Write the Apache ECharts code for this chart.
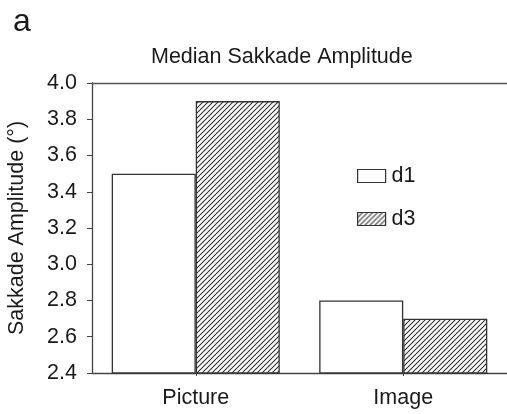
<!DOCTYPE html>
<html>
<head>
<meta charset="utf-8">
<script src="https://cdn.jsdelivr.net/npm/echarts@6/dist/echarts.min.js"></script>
<style>html,body{margin:0;padding:0;background:#fff;}#c{width:507px;height:414px;}</style>
</head>
<body>
<div id="c"></div>
<script>
const categories = ['Picture', 'Image'];
const seriesNames = ['d1', 'd3'];
const d1Values = [3.5, 2.8];
const d3Values = [3.9, 2.7];
const yTicks = [2.4, 2.6, 2.8, 3.0, 3.2, 3.4, 3.6, 3.8, 4.0];

function hatch() {
  const c = document.createElement('canvas');
  const s = 5;
  c.width = s; c.height = s;
  const g = c.getContext('2d');
  g.fillStyle = '#fff';
  g.fillRect(0, 0, s, s);
  g.strokeStyle = '#333';
  g.lineWidth = 1.1;
  g.beginPath();
  g.moveTo(-1, s + 1); g.lineTo(s + 1, -1);
  g.moveTo(-1, 1); g.lineTo(1, -1);
  g.moveTo(s - 1, s + 1); g.lineTo(s + 1, s - 1);
  g.stroke();
  return c;
}

const chart = echarts.init(document.getElementById('c'), null, {renderer: 'canvas'});
const font = 'Arial, "Liberation Sans", sans-serif';
const txt = '#1a1a1a';
const fs = 21.5;
chart.setOption({
  backgroundColor: '#fff',
  animation: false,
  textStyle: {fontFamily: font},
  title: [
    {text: 'Median Sakkade Amplitude', left: 146, top: 41,
     textStyle: {fontSize: fs, fontWeight: 'normal', color: txt, fontFamily: font}},
    {text: 'a', left: 8, top: 1,
     textStyle: {fontSize: 32, fontWeight: 'normal', color: txt, fontFamily: font}}
  ],
  legend: {
    orient: 'vertical', left: 352, top: 160, itemWidth: 28, itemHeight: 13, itemGap: 21,
    icon: 'rect',
    data: seriesNames,
    textStyle: {fontSize: fs, color: txt, fontFamily: font, padding: [0, 0, 0, 1]},
    itemStyle: {borderColor: '#333', borderWidth: 1.2}
  },
  grid: {left: 92, right: 0, top: 83, bottom: 41, containLabel: false, outerBoundsMode: 'none'},
  xAxis: [
    {type: 'category', data: categories, position: 'bottom',
     axisLine: {lineStyle: {color: '#444', width: 1.3}},
     axisTick: {show: true, alignWithLabel: true, length: 3, lineStyle: {color: '#444'}},
     axisLabel: {fontSize: fs, color: txt, margin: 14, fontFamily: font}},
    {type: 'category', data: categories, position: 'top',
     axisLine: {show: true, lineStyle: {color: '#555', width: 1.3}},
     axisTick: {show: false}, axisLabel: {show: false}}
  ],
  yAxis: {
    type: 'value', min: yTicks[0], max: yTicks[yTicks.length - 1], interval: 0.2,
    axisLine: {show: true, lineStyle: {color: '#444', width: 1.3}},
    axisTick: {show: true, length: 5, lineStyle: {color: '#444'}},
    splitLine: {show: false},
    axisLabel: {fontSize: fs, color: txt, margin: 15, fontFamily: font,
      formatter: v => v.toFixed(1)},
    name: 'Sakkade Amplitude (°)', nameLocation: 'middle', nameGap: 64,
    nameTextStyle: {fontSize: fs, color: txt, fontFamily: font}
  },
  series: [
    {name: seriesNames[0], type: 'bar', data: d1Values, barGap: '0%', barCategoryGap: '19%',
     itemStyle: {color: '#fff', borderColor: '#333', borderWidth: 1.3}},
    {name: seriesNames[1], type: 'bar', data: d3Values, barGap: '0%', barCategoryGap: '19%',
     itemStyle: {color: {image: hatch(), repeat: 'repeat'}, borderColor: '#333', borderWidth: 1.3}}
  ]
});
</script>
</body>
</html>
